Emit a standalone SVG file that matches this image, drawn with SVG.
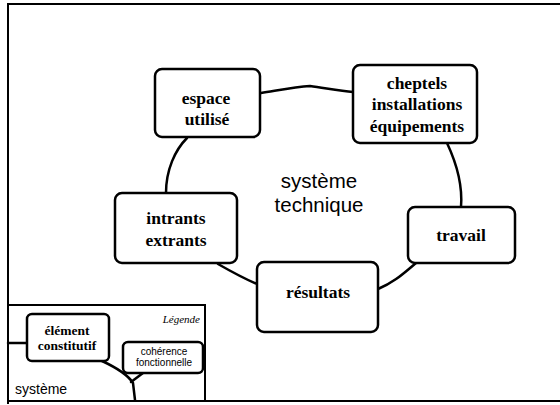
<svg xmlns="http://www.w3.org/2000/svg" width="560" height="405" viewBox="0 0 560 405">
<style>
  .frame { fill: none; stroke: #000; stroke-width: 2; }
  .box { fill: #fff; stroke: #000; stroke-width: 2.5; }
  .link { fill: none; stroke: #000; stroke-width: 2.5; stroke-linecap: round; }
  .lbl { font-family: 'Liberation Serif', 'Times New Roman', Times, serif; font-weight: 700; font-size: 17.5px; text-anchor: middle; fill: #000; }
  .center { font-family: 'Liberation Sans', Arial, sans-serif; font-size: 20.5px; text-anchor: middle; fill: #000; }
  .small { font-family: 'Liberation Serif', 'Times New Roman', Times, serif; font-weight: 700; font-size: 13.5px; text-anchor: middle; fill: #000; }
  .tiny { font-family: 'Liberation Sans', Arial, sans-serif; font-size: 10px; text-anchor: middle; fill: #000; }
</style>
<rect width="560" height="405" fill="#fff"/>

<!-- outer frame -->
<path class="frame" d="M8 404 V4 H560"/>
<path class="frame" d="M8 401 H560"/>

<!-- ring connectors -->
<g id="connectors">
  <path class="link" d="M261 93 C280 90 295 87 310 86 C325 88 340 91 353 92"/>
  <path class="link" d="M447 143 C455 160 463 182 461 207"/>
  <path class="link" d="M416 263 C405 272 395 282 378 289"/>
  <path class="link" d="M257 284 C245 279 232 272 218 264"/>
  <path class="link" d="M166 193 C166 170 175 150 187 138"/>
</g>

<g id="espace">
  <rect class="box" x="155" y="69" width="105" height="68" rx="7"/>
  <text class="lbl" x="206" y="104">espace</text>
  <text class="lbl" x="207" y="125">utilisé</text>
</g>

<g id="cheptels">
  <rect class="box" x="353" y="65" width="124" height="78" rx="7"/>
  <text class="lbl" x="417" y="89">cheptels</text>
  <text class="lbl" x="417" y="110">installations</text>
  <text class="lbl" x="417" y="132">équipements</text>
</g>

<g id="intrants">
  <rect class="box" x="115" y="193" width="122" height="70" rx="7"/>
  <text class="lbl" x="176" y="224">intrants</text>
  <text class="lbl" x="176" y="246">extrants</text>
</g>

<g id="resultats">
  <rect class="box" x="257" y="262" width="121" height="70" rx="7"/>
  <text class="lbl" x="318" y="298">résultats</text>
</g>

<g id="travail">
  <rect class="box" x="408" y="207" width="107" height="56" rx="7"/>
  <text class="lbl" x="461" y="241">travail</text>
</g>

<g id="systeme-technique">
  <text class="center" x="319" y="188">système</text>
  <text class="center" x="319" y="212">technique</text>
</g>

<!-- legend -->
<g id="legende">
  <path class="frame" d="M8 305 H205 V401"/>
  <text x="200" y="323" font-family="Liberation Serif, Times New Roman, serif" font-style="italic" font-size="11" text-anchor="end">Légende</text>
  <path class="link" d="M8 343 H27"/>
  <path class="link" d="M102 361 C115 367 128 375 133 383 L135 400"/>
  <path class="link" d="M131 382 L143 373"/>
  <rect class="box" x="27" y="314" width="82" height="47" rx="5"/>
  <text class="small" x="67" y="335">élément</text>
  <text class="small" x="67" y="350">constitutif</text>
  <rect class="box" x="123" y="342" width="80" height="31" rx="5"/>
  <text class="tiny" x="164" y="355">cohérence</text>
  <text class="tiny" x="164" y="366">fonctionnelle</text>
  <text x="15" y="394" font-family="Liberation Sans, Arial, sans-serif" font-size="14">système</text>
</g>
</svg>
